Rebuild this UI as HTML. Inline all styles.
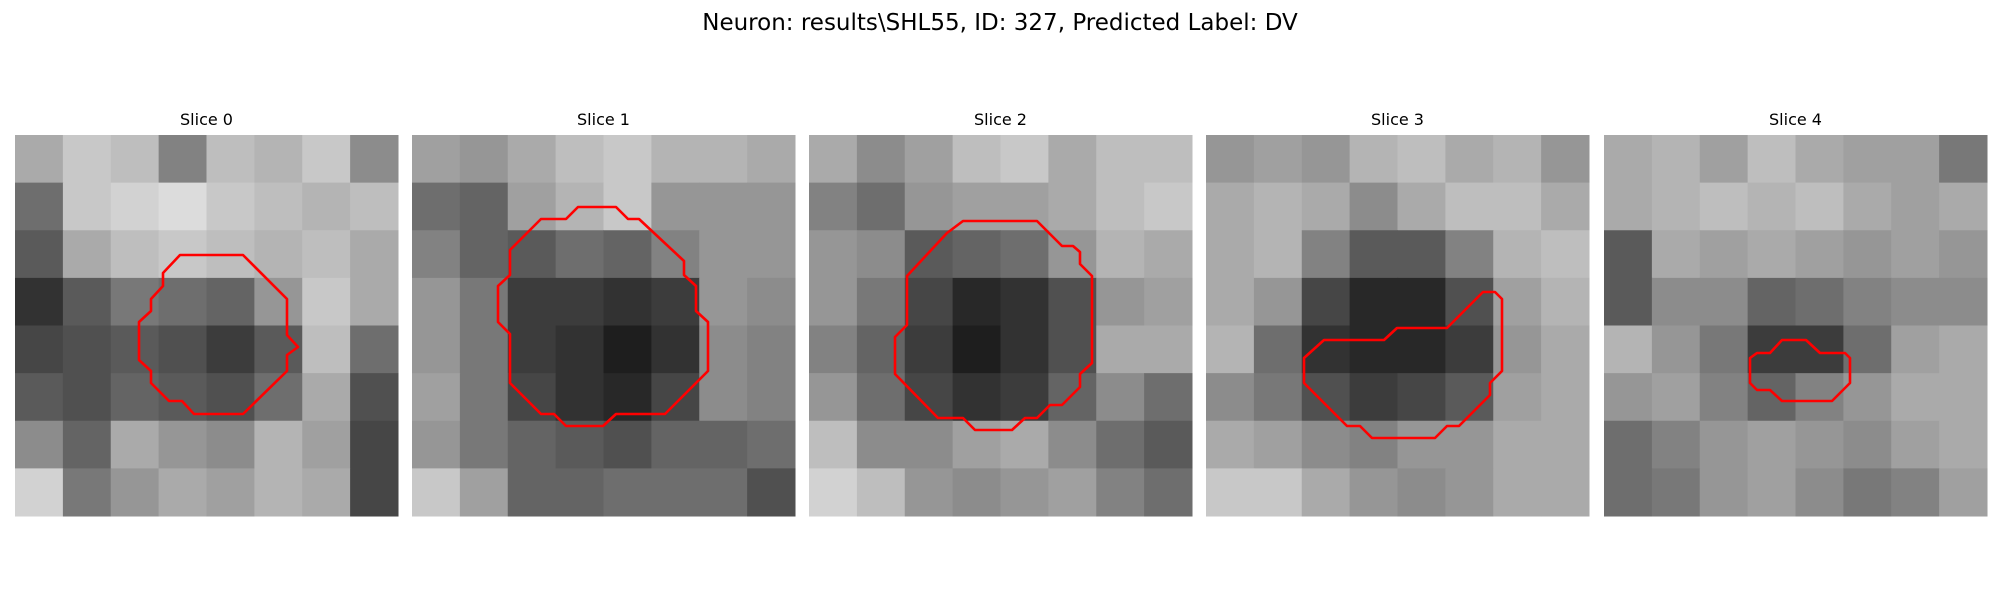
<!DOCTYPE html>
<html><head><meta charset="utf-8"><style>
html,body{margin:0;padding:0;background:#fff;}
svg{display:block;font-family:"DejaVu Sans","Liberation Sans",sans-serif;}
</style></head><body>
<svg id="fig" width="2000" height="600" viewBox="0 0 2000 600">
<text x="1000" y="30" text-anchor="middle" font-size="23" fill="#000">Neuron: results\SHL55, ID: 327, Predicted Label: DV</text>
</svg>
<script>
const sliceTitles = ["Slice 0","Slice 1","Slice 2","Slice 3","Slice 4"];
const grid0 = [[170,200,190,130,190,180,200,140],[110,200,210,220,200,190,180,190],[90,170,190,200,190,180,190,170],[50,90,120,110,100,150,200,170],[70,80,90,80,60,90,190,110],[90,80,100,90,80,110,170,80],[140,100,170,150,140,180,160,70],[210,120,150,170,160,180,170,70]];
const grid1 = [[160,150,170,190,200,180,180,170],[110,100,160,180,200,150,150,150],[130,100,90,110,100,130,150,150],[150,120,60,60,50,60,150,140],[150,120,60,50,30,50,140,130],[160,120,70,50,40,70,140,130],[150,120,100,90,80,100,100,110],[200,160,100,100,110,110,110,80]];
const grid2 = [[170,140,160,190,200,170,190,190],[130,110,150,160,160,170,190,200],[150,140,90,100,110,150,180,170],[150,120,70,40,50,80,150,160],[130,100,60,30,50,80,170,170],[150,110,70,50,60,100,140,110],[190,140,140,160,170,140,110,90],[210,190,150,140,150,160,130,110]];
const grid3 = [[150,160,150,180,190,170,180,150],[170,180,170,140,170,190,190,170],[170,180,130,90,90,130,180,190],[170,150,70,40,40,80,160,180],[180,110,50,40,40,60,150,170],[140,120,80,60,70,90,160,170],[170,160,140,130,150,150,170,170],[200,200,170,150,140,150,170,170]];
const grid4 = [[170,180,160,190,170,160,160,120],[170,180,190,180,190,170,160,170],[90,170,160,170,160,150,160,150],[90,140,140,100,110,130,140,140],[180,150,120,60,60,110,160,170],[150,160,130,100,130,150,170,170],[110,130,150,160,150,140,160,170],[110,120,150,160,140,120,130,160]];
const grids = [grid0,grid1,grid2,grid3,grid4];
const contour0 = [[165,120],[228,120],[272,164],[272,200],[283,212],[272,220],[272,236],[228,279],[179,279],[167,266],[154,266],[136,248],[136,236],[124,225],[124,187],[136,176],[136,164],[148,151],[148,138]];
const contour1 = [[166,72],[204,72],[216,84],[227,84],[272,126],[272,140],[284,151],[284,176],[296,187],[296,236],[253,279],[204,279],[191,291],[154,291],[142,279],[129,279],[98,248],[98,199],[86,187],[86,151],[98,140],[98,115],[129,84],[154,84]];
const contour2 = [[154,86],[228,86],[253,111],[264,111],[271,117],[271,129],[283,141],[283,228],[271,239],[271,252],[253,270],[241,270],[228,283],[216,283],[203,295],[166,295],[154,283],[129,283],[86,239],[86,202],[98,190],[98,141],[138,98]];
const contour3 = [[277,157],[289,157],[296,164],[296,236],[284,248],[284,260],[253,291],[241,291],[229,303],[166,303],[154,291],[141,291],[98,248],[98,223],[118,205],[178,205],[191,193],[241,193]];
const contour4 = [[178,205],[202,205],[216,218],[241,218],[246,223],[246,248],[228,266],[178,266],[166,255],[153,255],[146,248],[146,223],[153,218],[166,218]];
const contours = [contour0,contour1,contour2,contour3,contour4];

const NS = "http://www.w3.org/2000/svg";
const svg = document.getElementById('fig');
const panelX = [15, 412, 809, 1206, 1604];
const PW = 383, PH = 381, PY = 135;
grids.forEach((g, i) => {
  const grp = document.createElementNS(NS, 'g');
  
  
  grp.setAttribute('transform', `translate(${panelX[i]},${PY})`);
  svg.appendChild(grp);
  const t = document.createElementNS(NS, 'text');
  
  
  t.setAttribute('x', PW / 2); t.setAttribute('y', -10);
  t.setAttribute('text-anchor', 'middle'); t.setAttribute('font-size', '16');
  t.textContent = sliceTitles[i];
  grp.appendChild(t);
  const n = g.length, cw = PW / g[0].length, ch = PH / n;
  g.forEach((row, r) => row.forEach((v, c) => {
    const rect = document.createElementNS(NS, 'rect');
    
    
    rect.setAttribute('x', (c * cw).toFixed(2)); rect.setAttribute('y', (r * ch).toFixed(2));
    rect.setAttribute('width', (cw + 0.5).toFixed(2)); rect.setAttribute('height', (ch + 0.5).toFixed(2));
    rect.setAttribute('fill', `rgb(${v},${v},${v})`);
    grp.appendChild(rect);
  }));
  const poly = document.createElementNS(NS, 'polygon');
  
  
  poly.setAttribute('points', contours[i].map(p => p.join(',')).join(' '));
  poly.setAttribute('fill', 'none'); poly.setAttribute('stroke', '#ff0000');
  poly.setAttribute('stroke-width', '2.6'); poly.setAttribute('stroke-linejoin', 'round');
  grp.appendChild(poly);
});
</script>
</body></html>
